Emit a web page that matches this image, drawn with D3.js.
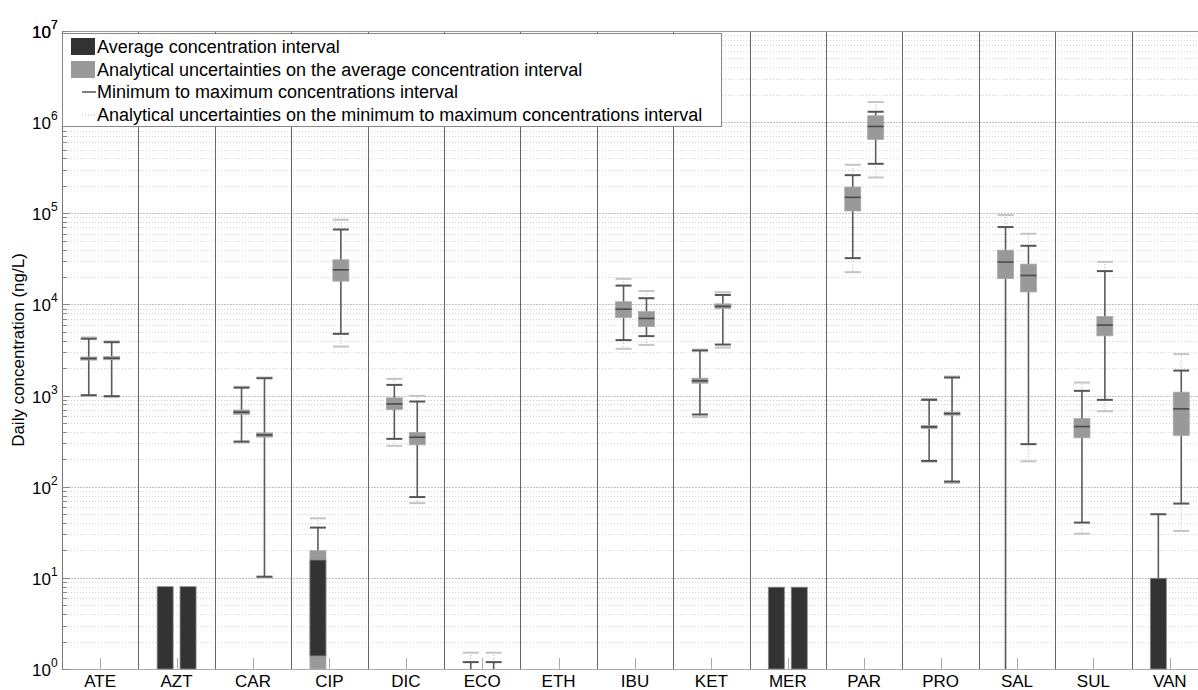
<!DOCTYPE html>
<html lang="en">
<head>
<meta charset="UTF-8">
<title>Daily concentration per compound</title>
<script src="https://d3js.org/d3.v7.min.js"></script>
<style>
  body { margin: 0; background: #fff; font-family: "Liberation Sans", Arial, sans-serif; }
  .grid line { stroke: #d2d2d2; stroke-width: 1; stroke-dasharray: 1,2; }
  .grid line.major { stroke: #c2c2c2; stroke-dasharray: 2,1; }
  .sep { stroke: #666; stroke-width: 1; }
  .label { font-size: 17px; }
</style>
</head>
<body>
<svg id="chart" width="1198" height="690"></svg>
<script>
const categories = ["ATE", "AZT", "CAR", "CIP", "DIC", "ECO", "ETH", "IBU",
                    "KET", "MER", "PAR", "PRO", "SAL", "SUL", "VAN"];

// every entry is [left sample, right sample], values in ng/L, null = not drawn
const maxUnc = [[4350, 3950], [null, null], [1250, 1580], [45, 84900], [1525, 993],
  [1.51, 1.51], [null, null], [19100, 14000], [3200, 13600], [null, null],
  [340700, 1664000], [920, 1620], [95500, 59600], [1390, 29300], [null, 2850]];
const maxConc = [[4200, 3850], [null, null], [1220, 1550], [35.6, 66400], [1310, 860],
  [1.19, 1.19], [null, null], [16100, 11700], [3120, 12700], [null, null],
  [262000, 1300000], [897, 1577], [70600, 44000], [1127, 23200], [49.9, 1880]];
const uncHigh = [[2650, 2680], [null, null], [695, 390], [19.9, 30900], [944, 393],
  [null, null], [null, null], [10700, 8360], [1553, 10150], [null, null],
  [194000, 1175000], [470, 660], [39400, 27700], [560, 7360], [null, 1090]];
const avgHigh = [[2600, 2620], [8.0, 8.0], [675, 380], [15.7, 24700], [830, 358],
  [null, null], [null, null], [9100, 7180], [1480, 9700], [7.9, 7.9],
  [154000, 925000], [462, 648], [30000, 21400], [470, 6090], [9.9, 735]];
const avgLow = [[2500, 2520], [0.5, 0.5], [640, 360], [1.39, 23300], [790, 340],
  [null, null], [null, null], [8650, 6850], [1420, 9350], [0.5, 0.5],
  [145000, 870000], [445, 620], [28300, 20200], [445, 5780], [0.5, 695]];
const uncLow = [[2450, 2470], [null, null], [620, 350], [0.5, 18000], [703, 288],
  [null, null], [null, null], [7190, 5710], [1368, 9020], [null, null],
  [106000, 645000], [440, 610], [19200, 13700], [344, 4520], [null, 364]];
const minConc = [[1010, 985], [null, null], [313, 10.3], [0.5, 4760], [335, 77],
  [0.5, 0.5], [null, null], [4060, 4490], [620, 3630], [null, null],
  [32200, 349000], [192, 114], [0.5, 293], [40.4, 897], [0.5, 65.3]];
const minUnc = [[990, 970], [null, null], [305, 10.1], [null, 3450], [281, 66],
  [null, null], [null, null], [3260, 3600], [580, 3360], [null, null],
  [22600, 247000], [188, 110], [null, 190], [30.5, 674], [null, 32.7]];

const legendItems = [
  "Average concentration interval",
  "Analytical uncertainties on the average concentration interval",
  "Minimum to maximum concentrations interval",
  "Analytical uncertainties on the minimum to maximum concentrations interval"
];
const yLabel = "Daily concentration (ng/L)";

const plot = {left: 62, right: 1208, top: 31, bottom: 669};
const svg = d3.select("#chart");

const x = d3.scaleLinear().domain([0.5, categories.length + 0.5]).range([plot.left, plot.right]);
const y = d3.scaleLog().domain([1, 1e7]).range([plot.bottom, plot.top]).clamp(true);
const sideOffset = [-0.15, 0.15];
const capHalf = 8, boxHalf = 8;

// grid
const ticks = y.ticks();
const isMajor = v => Math.abs(Math.log10(v) - Math.round(Math.log10(v))) < 1e-9;
svg.append("g").attr("class", "grid")
  .selectAll("line").data(ticks).join("line")
  .attr("class", d => isMajor(d) ? "major" : null)
  .attr("x1", plot.left).attr("x2", 1198)
  .attr("y1", d => Math.round(y(d)) + 0.5).attr("y2", d => Math.round(y(d)) + 0.5);

// category separators
svg.append("g").selectAll("line")
  .data(d3.range(1, categories.length))
  .join("line").attr("class", "sep")
  .attr("x1", d => Math.round(x(d + 0.5)) + 0.5).attr("x2", d => Math.round(x(d + 0.5)) + 0.5)
  .attr("y1", plot.top).attr("y2", plot.bottom);

// axes frame
svg.append("line").attr("x1", plot.left).attr("x2", 1198).attr("y1", plot.top + 0.5).attr("y2", plot.top + 0.5)
  .attr("stroke", "#999");
svg.append("line").attr("x1", plot.left).attr("x2", 1198).attr("y1", plot.bottom + 0.5).attr("y2", plot.bottom + 0.5)
  .attr("stroke", "#aaa");
svg.append("line").attr("x1", plot.left + 0.5).attr("x2", plot.left + 0.5).attr("y1", plot.top).attr("y2", plot.bottom)
  .attr("stroke", "#777");

// y ticks (inward)
svg.append("g").selectAll("line").data(ticks).join("line")
  .attr("x1", plot.left).attr("x2", d => plot.left + (isMajor(d) ? 8 : 5))
  .attr("y1", d => Math.round(y(d)) + 0.5).attr("y2", d => Math.round(y(d)) + 0.5)
  .attr("stroke", "#888");

// y tick labels 10^n
const majors = ticks.filter(isMajor).concat([1e7]);
const yl = svg.append("g").selectAll("text").data(majors).join("text")
  .attr("class", "label")
  .attr("x", 32).attr("y", d => y(d) + 7);
yl.append("tspan").text("10");
yl.append("tspan").attr("dy", -9).attr("font-size", 12).text(d => Math.round(Math.log10(d)));

// y axis title
svg.append("text").attr("class", "label")
  .attr("transform", `translate(24,${(plot.top + plot.bottom) / 2}) rotate(-90)`)
  .attr("text-anchor", "middle").text(yLabel);

// x ticks and labels
const xg = svg.append("g");
xg.selectAll("line").data(categories).join("line")
  .attr("x1", (d, i) => Math.round(x(i + 1)) + 0.5).attr("x2", (d, i) => Math.round(x(i + 1)) + 0.5)
  .attr("y1", plot.bottom).attr("y2", plot.bottom - 11)
  .attr("stroke", "#aaa");
xg.selectAll("text").data(categories).join("text")
  .attr("class", "label").attr("text-anchor", "middle")
  .attr("x", (d, i) => x(i + 1)).attr("y", 687).text(d => d);

// samples
const samples = [];
categories.forEach((c, i) => {
  [0, 1].forEach(s => samples.push({
    cx: x(i + 1 + sideOffset[s]),
    maxU: maxUnc[i][s], max: maxConc[i][s],
    uHi: uncHigh[i][s], aHi: avgHigh[i][s], aLo: avgLow[i][s], uLo: uncLow[i][s],
    min: minConc[i][s], minU: minUnc[i][s]
  }));
});

const marks = svg.append("g");
const inPlot = v => v != null && v > 1;

samples.forEach(d => {
  const g = marks.append("g");
  // dotted uncertainty extension of min-max
  if (d.maxU != null && d.max != null)
    g.append("line").attr("x1", d.cx).attr("x2", d.cx).attr("y1", y(d.max)).attr("y2", y(d.maxU))
      .attr("stroke", "#c8c8c8").attr("stroke-width", 1.5).attr("stroke-dasharray", "1,2");
  if (d.minU != null && d.min != null)
    g.append("line").attr("x1", d.cx).attr("x2", d.cx).attr("y1", y(d.min)).attr("y2", y(d.minU))
      .attr("stroke", "#c8c8c8").attr("stroke-width", 1.5).attr("stroke-dasharray", "1,2");
  // min-max line
  if (d.max != null && d.min != null)
    g.append("line").attr("x1", d.cx).attr("x2", d.cx).attr("y1", y(d.min)).attr("y2", y(d.max))
      .attr("stroke", "#5a5a5a").attr("stroke-width", 1.6);
  // uncertainty box
  if (d.uHi != null)
    g.append("rect").attr("x", d.cx - boxHalf).attr("width", boxHalf * 2)
      .attr("y", y(d.uHi)).attr("height", Math.max(3, y(d.uLo) - y(d.uHi)))
      .attr("fill", "#999").attr("stroke", "#aaa").attr("stroke-width", 0.8);
  // average interval
  if (d.aHi != null) {
    const h = y(d.aLo) - y(d.aHi);
    const big = h > 10;
    g.append("rect").attr("x", d.cx - boxHalf).attr("width", boxHalf * 2)
      .attr("y", big ? y(d.aHi) : (y(d.aHi) + y(d.aLo)) / 2 - 0.8).attr("height", big ? h : 1.6)
      .attr("fill", big ? "#333" : "#4a4a4a").attr("stroke", big ? "#888" : "none").attr("stroke-width", 0.8);
  }
  // caps
  const cap = (v, color) => g.append("line")
    .attr("x1", d.cx - capHalf).attr("x2", d.cx + capHalf)
    .attr("y1", y(v)).attr("y2", y(v)).attr("stroke", color).attr("stroke-width", 2);
  if (inPlot(d.maxU)) cap(d.maxU, "#c4c4c4");
  if (inPlot(d.minU)) cap(d.minU, "#c4c4c4");
  if (inPlot(d.max)) cap(d.max, "#555");
  if (inPlot(d.min)) cap(d.min, "#555");
});

// legend
const lg = svg.append("g");
lg.append("rect").attr("x", 62.5).attr("y", 33.5).attr("width", 659).attr("height", 93)
  .attr("fill", "#fff").attr("stroke", "#888");
lg.append("rect").attr("x", 71).attr("y", 38).attr("width", 24).attr("height", 17).attr("fill", "#333");
lg.append("rect").attr("x", 71).attr("y", 61).attr("width", 24).attr("height", 17).attr("fill", "#999");
lg.append("line").attr("x1", 82).attr("x2", 96).attr("y1", 92).attr("y2", 92).attr("stroke", "#555").attr("stroke-width", 1.5);
lg.append("line").attr("x1", 82).attr("x2", 96).attr("y1", 115).attr("y2", 115).attr("stroke", "#ccc")
  .attr("stroke-width", 1.5).attr("stroke-dasharray", "1,2");
lg.selectAll("text.leg").data(legendItems).join("text")
  .attr("class", "leg").attr("font-size", 18).attr("x", 97).attr("y", (d, i) => 53 + i * 22.7).text(d => d);
</script>
</body>
</html>
